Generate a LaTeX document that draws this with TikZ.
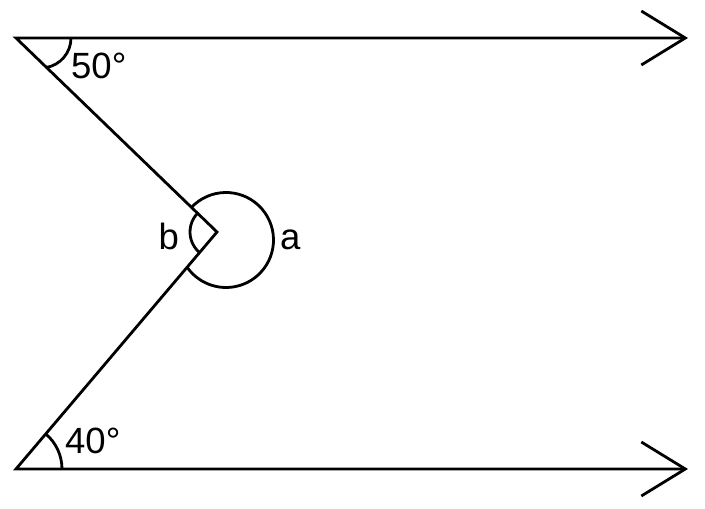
\documentclass[tikz,border=0pt]{standalone}
\usepackage{fontspec}
\setmainfont{Liberation Sans}
\usetikzlibrary{arrows.meta}
\tikzset{ %
  ,>={Straight Barb[length=44pt,width=54pt]}
  ,every node/.style={font=\fontsize{36.5}{44}\selectfont, inner sep=0}
  ,ray/.style={line width=2.8pt}
  ,markangle/.style={line width=2.8pt}
  ,lbl/.style={anchor=base west}
}

\begin{document}
\begin{tikzpicture}[x=1pt,y=1pt]
      \useasboundingbox (0,0) rectangle (705,509);
      \coordinate (P) at (16,471);
      \coordinate (Q) at (688,471);
      \coordinate (V) at (217,277);
      \coordinate (R) at (16,40);
      \coordinate (S) at (688,40);
      \coordinate (Pc) at (41,471);
      \coordinate (Vc) at (226,269);
      \draw [ray,<->] (Q) -- (P) -- (V) -- (R) -- (S);
      \draw [markangle] ([shift={(0:30)}]Pc) arc[start angle=0, end angle=-81, radius=30];
      \draw [markangle] ([shift={(0:46)}]R) arc[start angle=0, end angle=49.6, radius=46];
      \draw [markangle] ([shift={(136.2:27)}]V) arc[start angle=136.2, end angle=229.6, radius=27];
      \draw [markangle] ([shift={(136.7:47.5)}]Vc) arc[start angle=136.7, end angle=-145.1, radius=47.5];
      \node[lbl] (top) at (71,430.7) {50°};
      \node[lbl] (bot) at (65,55.7) {40°};
      \node[lbl] (b) at (158.5,259) {b};
      \node[lbl] (a) at (280,259) {a};
    \end{tikzpicture}
\end{document}
